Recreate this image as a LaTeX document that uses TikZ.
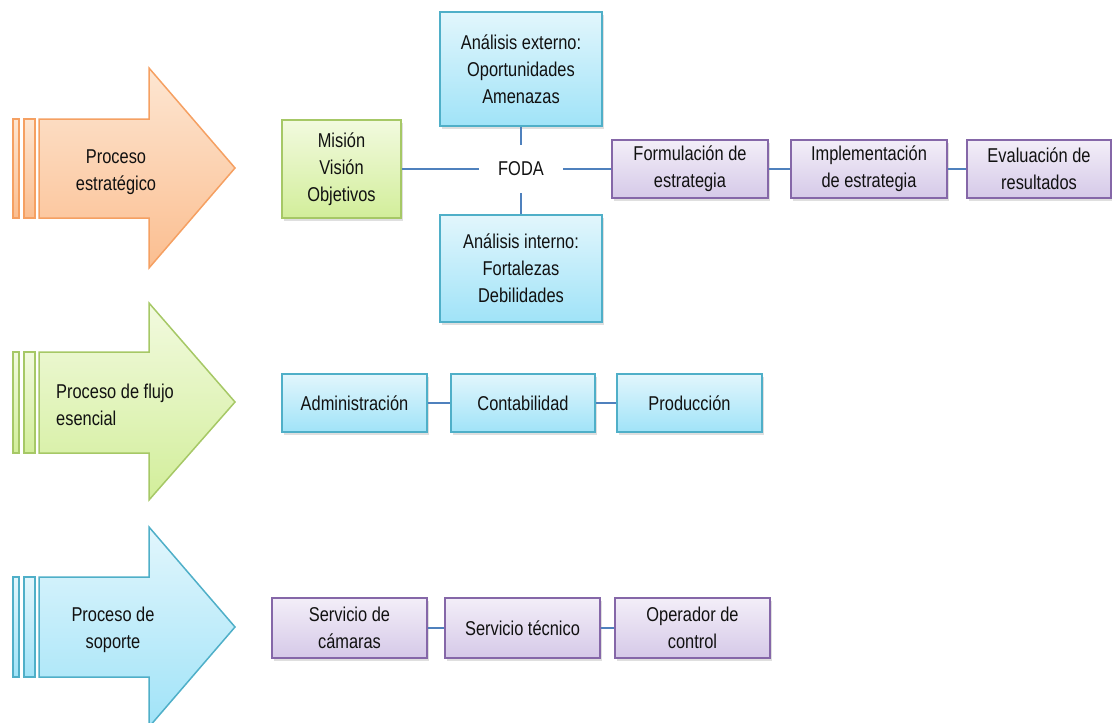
\documentclass[tikz,border=0pt]{standalone}
\usepackage{fontspec}
\setmainfont{Liberation Sans}[FakeStretch=0.82]
\usetikzlibrary{shadows}
\definecolor{txt}{HTML}{111111}
\definecolor{link}{HTML}{4F81BD}
% orange
\definecolor{orA}{HTML}{FDE6D2}
\definecolor{orB}{HTML}{FBBE90}
\definecolor{orD}{HTML}{F5A062}
% green
\definecolor{grA}{HTML}{F2FADF}
\definecolor{grB}{HTML}{D2EE9A}
\definecolor{grD}{HTML}{A6C866}
% blue
\definecolor{blA}{HTML}{E2F6FC}
\definecolor{blB}{HTML}{A0E3F8}
\definecolor{blD}{HTML}{4FAFC8}
% purple
\definecolor{puA}{HTML}{F3EEF8}
\definecolor{puB}{HTML}{D5C9E8}
\definecolor{puD}{HTML}{8567A8}
\tikzset{
  x=1pt, y=-1pt,
  every node/.style={font=\fontsize{20}{27}\selectfont, text=txt},
  boxbase/.style={rectangle, line width=1.5pt, align=center, inner sep=2pt,
    drop shadow={shadow xshift=1.5pt, shadow yshift=-2.5pt, opacity=0.25}},
  bluebox/.style={boxbase, draw=blD, top color=blA, bottom color=blB},
  purplebox/.style={boxbase, draw=puD, top color=puA, bottom color=puB},
  greenbox/.style={boxbase, draw=grD, top color=grA, bottom color=grB},
  connector/.style={draw=link, line width=1.5pt},
  arrowpart/.style={line width=1.5pt, line join=miter},
}
% big block arrow: #1 = style, #2 body top, #3 body bottom, #4 head top, #5 head bottom, #6 tip y
\newcommand{\blockarrow}[6]{%
  \path[arrowpart,#1] (13,#2) rectangle (19,#3);
  \path[arrowpart,#1] (24,#2) rectangle (35,#3);
  \path[arrowpart,#1] (39,#2) -- (149,#2) -- (149,#4) -- (235,#6)
     -- (149,#5) -- (149,#3) -- (39,#3) -- cycle;
}
\begin{document}
\begin{tikzpicture}
\useasboundingbox (0,0) rectangle (1112,723);
\clip (0,0) rectangle (1112,723);

% process arrows
\blockarrow{draw=orD, top color=orA, bottom color=orB}{119}{218}{68}{268}{168}
\blockarrow{draw=grD, top color=grA, bottom color=grB}{352}{453}{303}{500}{402}
\blockarrow{draw=blD, top color=blA, bottom color=blB}{577}{677}{527}{727}{627}
\node[align=center] (p1) at (116,172) {Proceso\\estratégico};
\node[align=left]   (p2) at (115,405) {Proceso de flujo\\esencial};
\node[align=center] (p3) at (113,630) {Proceso de\\soporte};

% strategic process
\node[greenbox, minimum width=119pt, minimum height=98pt] (mis) at (341.5,169) {Misión\\Visión\\Objetivos};
\node[bluebox, minimum width=162pt, minimum height=114pt] (ext) at (521,69) {Análisis externo:\\Oportunidades\\Amenazas};
\node[bluebox, minimum width=162pt, minimum height=107pt] (int) at (521,268.5) {Análisis interno:\\Fortalezas\\Debilidades};
\node[minimum width=84pt, minimum height=48pt, inner sep=0pt] (foda) at (521,169) {FODA};
\node[purplebox, minimum width=156pt, minimum height=58pt] (form) at (690,169) {Formulación de\\estrategia};
\node[purplebox, minimum width=156pt, minimum height=58pt] (impl) at (869,169) {Implementación\\de estrategia};
\node[purplebox, minimum width=144pt, minimum height=58pt] (eval) at (1039,169) {Evaluación de\\resultados};

\draw[connector] (mis.east) -- (foda.west);
\draw[connector] (foda.east) -- (form.west);
\draw[connector] (ext.south) -- (foda.north);
\draw[connector] (foda.south) -- (int.north);
\draw[connector] (form.east) -- (impl.west);
\draw[connector] (impl.east) -- (eval.west);

% essential flow process
\node[bluebox, minimum width=145pt, minimum height=58pt] (adm) at (354.5,403) {Administración};
\node[bluebox, minimum width=144pt, minimum height=58pt] (cont) at (523,403) {Contabilidad};
\node[bluebox, minimum width=145pt, minimum height=58pt] (prod) at (689.5,403) {Producción};
\draw[connector] (adm.east) -- (cont.west);
\draw[connector] (cont.east) -- (prod.west);

% support process
\node[purplebox, minimum width=155pt, minimum height=60pt] (cam) at (349.5,628) {Servicio de\\cámaras};
\node[purplebox, minimum width=155pt, minimum height=60pt] (tec) at (522.5,628) {Servicio técnico};
\node[purplebox, minimum width=155pt, minimum height=60pt] (ope) at (692.5,628) {Operador de\\control};
\draw[connector] (cam.east) -- (tec.west);
\draw[connector] (tec.east) -- (ope.west);
\end{tikzpicture}
\end{document}
